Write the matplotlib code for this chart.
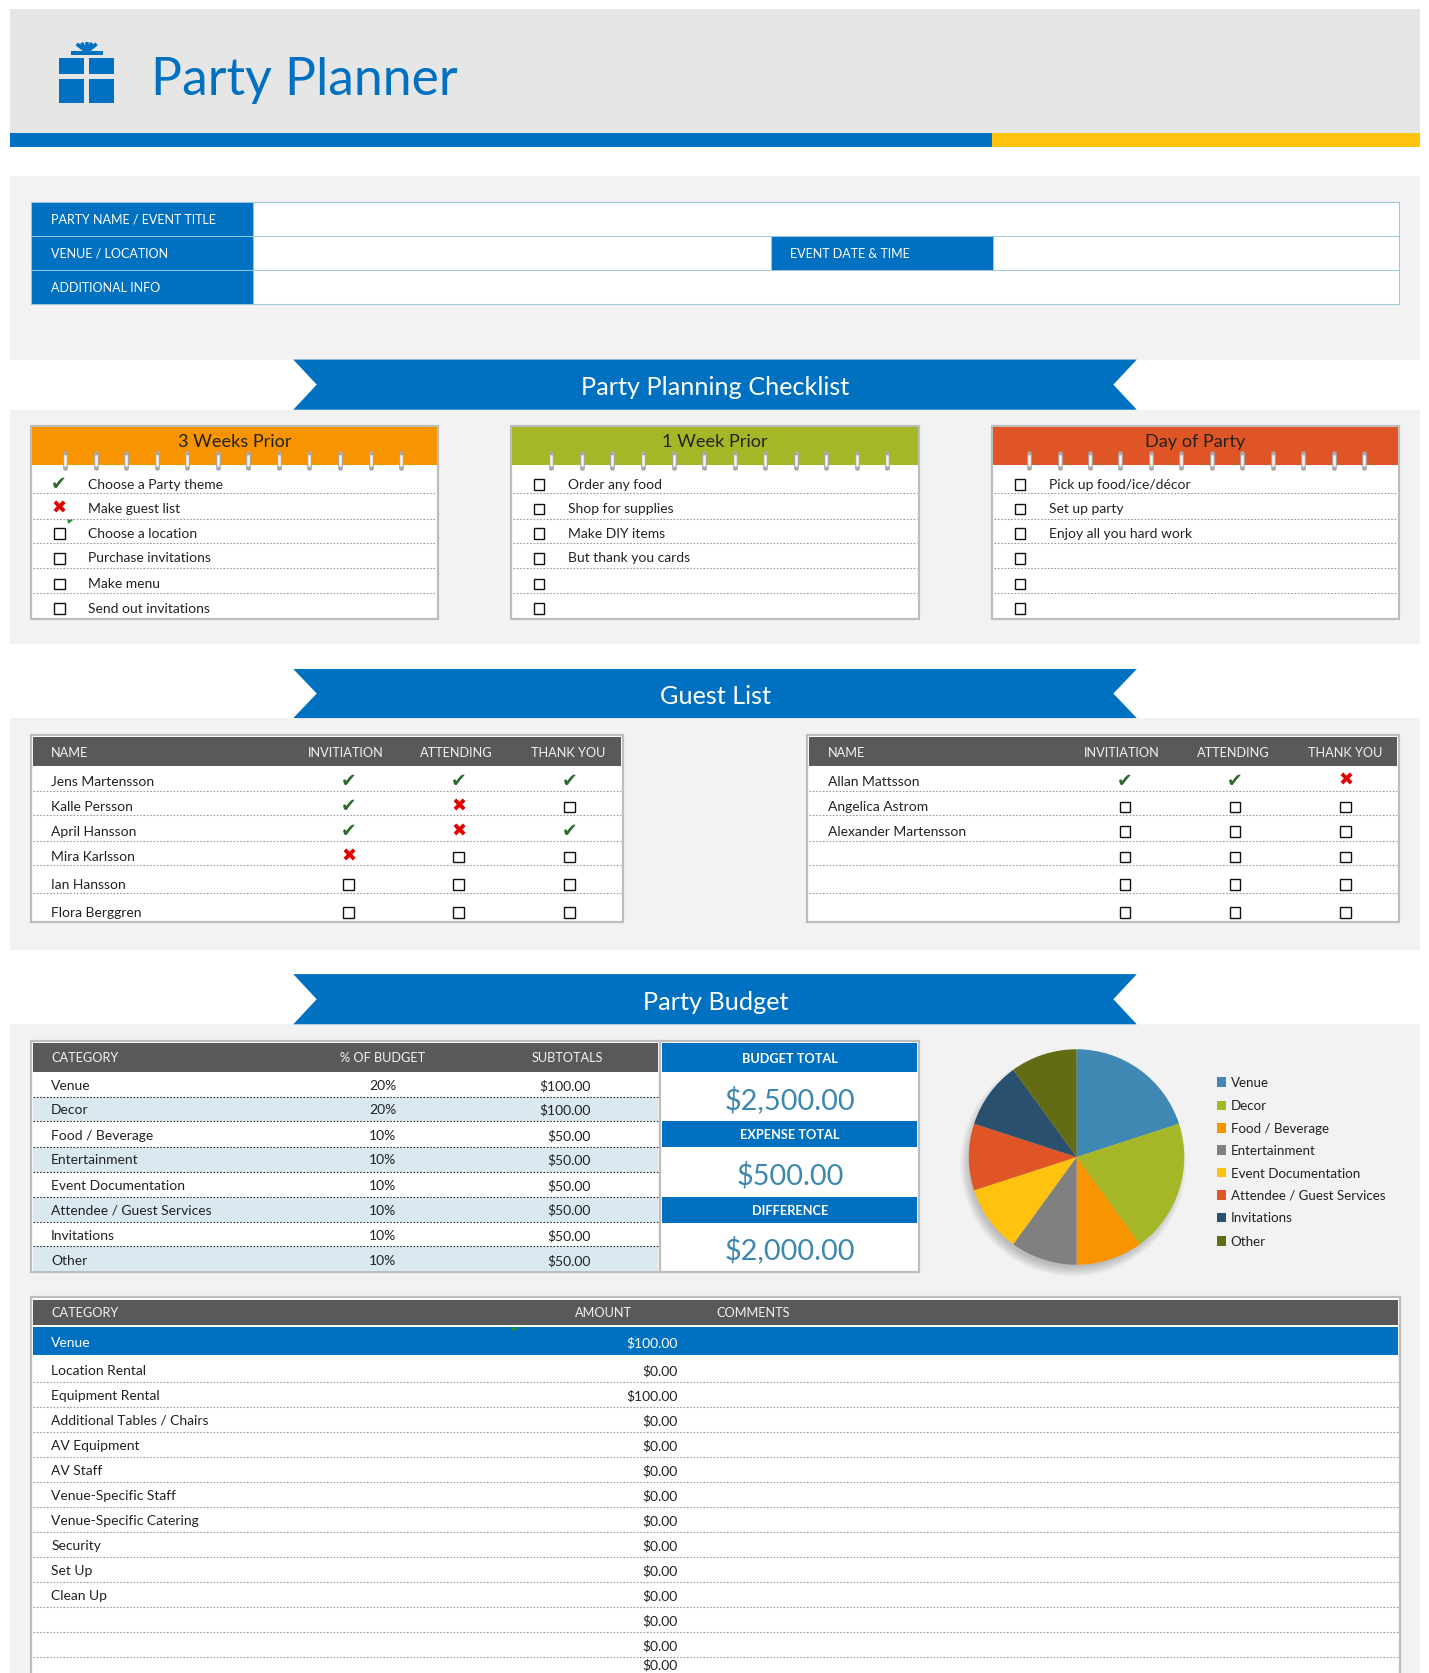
import matplotlib
matplotlib.use("Agg")
import matplotlib.pyplot as plt
from matplotlib.patches import Rectangle, Polygon, Circle

plt.rcParams['font.family'] = ['Lato', 'DejaVu Sans']

# ---- data ----
title = "Party Planner"
form_labels = ["PARTY NAME / EVENT TITLE", "VENUE / LOCATION", "ADDITIONAL INFO"]
form_extra = "EVENT DATE & TIME"
banners = ["Party Planning Checklist", "Guest List", "Party Budget"]

check_titles = ["3 Weeks Prior", "1 Week Prior", "Day of Party"]
check_tasks_1 = ["Choose a Party theme", "Make guest list", "Choose a location",
                 "Purchase invitations", "Make menu", "Send out invitations"]
check_state_1 = ["y", "n", "o", "o", "o", "o"]
check_tasks_2 = ["Order any food", "Shop for supplies", "Make DIY items",
                 "But thank you cards", "", ""]
check_state_2 = ["o"] * 6
check_tasks_3 = ["Pick up food/ice/décor", "Set up party", "Enjoy all you hard work", "", "", ""]
check_state_3 = ["o"] * 6
check_colors = ["#F79400", "#A5B627", "#E05525"]

guest_headers = ["NAME", "INVITIATION", "ATTENDING", "THANK YOU"]
guests_1 = ["Jens Martensson", "Kalle Persson", "April Hansson", "Mira Karlsson", "Ian Hansson", "Flora Berggren"]
invite_1 = ["y", "y", "y", "n", "o", "o"]
attend_1 = ["y", "n", "n", "o", "o", "o"]
thanks_1 = ["y", "o", "y", "o", "o", "o"]
guests_2 = ["Allan Mattsson", "Angelica Astrom", "Alexander Martensson", "", "", ""]
invite_2 = ["y", "o", "o", "o", "o", "o"]
attend_2 = ["y", "o", "o", "o", "o", "o"]
thanks_2 = ["n", "o", "o", "o", "o", "o"]

budget_cats = ["Venue", "Decor", "Food / Beverage", "Entertainment", "Event Documentation",
               "Attendee / Guest Services", "Invitations", "Other"]
budget_pct = [20, 20, 10, 10, 10, 10, 10, 10]
budget_sub = [100.0, 100.0, 50.0, 50.0, 50.0, 50.0, 50.0, 50.0]
pie_colors = ["#3F88B4", "#A5B627", "#F79400", "#808080", "#FFC20E", "#E05525", "#29506E", "#636B14"]
total_labels = ["BUDGET TOTAL", "EXPENSE TOTAL", "DIFFERENCE"]
total_values = ["$2,500.00", "$500.00", "$2,000.00"]

detail_group = "Venue"
detail_group_amount = 100.0
detail_items = ["Location Rental", "Equipment Rental", "Additional Tables / Chairs", "AV Equipment", "AV Staff",
                "Venue-Specific Staff", "Venue-Specific Catering", "Security", "Set Up", "Clean Up", "", "", ""]
detail_amounts = [0, 100, 0, 0, 0, 0, 0, 0, 0, 0, 0, 0, 0]

# ---- layout ----
W, H = 1340, 1568
BLUE, YEL, PANEL, DARK = "#0070C0", "#FFC20E", "#F2F2F2", "#595959"
GREY = "#BDBDBD"
TXT = "#222222"
fig = plt.figure(figsize=(14.29, 16.73), dpi=100, facecolor="white")
ax = fig.add_axes([0, 0, 1, 1])
ax.set_xlim(0, W); ax.set_ylim(H, 0); ax.axis("off")

FS = 10.0
HS = 9.2

def box(x0, y0, x1, y1, fc, ec="none", lw=0, z=1):
    ax.add_patch(Rectangle((x0, y0), x1 - x0, y1 - y0, facecolor=fc, edgecolor=ec, linewidth=lw, zorder=z))

def txt(x, y, s, fs=FS, c=TXT, ha="left", **k):
    ax.text(x, y, s, fontsize=fs, color=c, ha=ha, va="center_baseline", zorder=6, **k)

def dotted(x0, x1, y, c="#9A9A9A"):
    ax.plot([x0, x1], [y, y], color=c, lw=0.8, ls=(0, (1.5, 1.5)), zorder=3)

def mark(x, y, state):
    if state == "y":
        ax.text(x, y, "\u2714", fontsize=13.5, color="#2E6B2E", ha="center", va="center",
                family="DejaVu Sans", zorder=6)
    elif state == "n":
        ax.text(x, y, "\u2716", fontsize=13, color="#E00000", ha="center", va="center",
                family="DejaVu Sans", zorder=6)
    else:
        box(x - 5, y - 4.8, x + 5, y + 5.2, "white", "#111111", 1.0, z=5)

def banner(y0, y1, s):
    ym = (y0 + y1) / 2
    ax.add_patch(Polygon([(275, y0), (1066, y0), (1044, ym), (1066, y1), (275, y1), (297, ym)],
                         closed=True, facecolor=BLUE, edgecolor="none", zorder=4))
    txt(671, ym + 1, s, fs=18.2, c="white", ha="center")

# header
box(9, 8, 1332, 125, "#E6E6E6")
box(9, 125, 930, 138, BLUE)
box(930, 125, 1332, 138, YEL)
box(55.3, 54.7, 79, 69.4, BLUE, z=2); box(83.5, 54.7, 107, 69.4, BLUE, z=2)
box(55.3, 74.3, 79, 96.6, BLUE, z=2); box(83.5, 74.3, 107, 96.6, BLUE, z=2)
box(66.3, 47.5, 96.7, 51.8, BLUE, z=3)
for bx, by in zip([71.9, 76.5, 81.3, 86.2, 90.6], [41.2, 40.2, 39.5, 40.2, 41.2]):
    ax.plot([81.3, bx], [48.5, by], color=BLUE, lw=2.6, solid_capstyle="butt", zorder=3)
txt(142, 71, title, fs=37.3, c=BLUE)

# panels
box(9, 165, 1332, 337, PANEL)
box(9, 384, 1332, 604, PANEL)
box(9, 673, 1332, 890, PANEL)
box(9, 960, 1332, H, PANEL)
for (a, b), s in zip([(337, 384), (627, 673), (913, 960)], banners):
    banner(a, b, s)

# form
form_y = [189, 221, 253, 285]
box(29, 189, 1312, 285, "white", "#9CC9DC", 0.8)
for i, s in enumerate(form_labels):
    box(29, form_y[i], 237, form_y[i + 1], BLUE, "#9CC9DC", 0.7, z=2)
    txt(48, (form_y[i] + form_y[i + 1]) / 2, s, fs=9.0, c="white")
    if i < 2:
        ax.plot([237, 1312], [form_y[i + 1]] * 2, color="#9CC9DC", lw=0.7, zorder=2)
box(723, 221, 931, 253, BLUE, "#9CC9DC", 0.7, z=2)
txt(741, 237, form_extra, fs=9.0, c="white")

# checklists
check_x = [(29, 411), (479, 862), (930, 1312)]
check_rows = [454, 477, 500, 523, 547, 570]
check_lines = [462, 486, 509, 532, 556]
check_tasks = [check_tasks_1, check_tasks_2, check_tasks_3]
check_states = [check_state_1, check_state_2, check_state_3]
rings = [(61, 28.65), (517, 28.65), (965, 28.55)]
for c in range(3):
    x0, x1 = check_x[c]
    box(x0, 399, x1, 580, "white", GREY, 1.6, z=2)
    box(x0 + 1, 400, x1 - 1, 436, check_colors[c], z=3)
    txt((x0 + x1) / 2, 413, check_titles[c], fs=13.1, c="#222222", ha="center")
    for r in range(12):
        rx = rings[c][0] + r * rings[c][1]
        ax.plot([rx, rx], [425, 439], color="#A8A8A8", lw=3.4, solid_capstyle="round", zorder=4)
        ax.plot([rx, rx], [427.5, 435.5], color="#F4F4F4", lw=1.8, zorder=5)
    for ly in check_lines:
        dotted(x0 + 2, x1 - 2, ly)
    for r, ry in enumerate(check_rows):
        mark(x0 + 26.5, ry, check_states[c][r])
        txt(x0 + 53.5, ry - 0.5, check_tasks[c][r])
ax.add_patch(Polygon([(63, 487), (69, 487), (64, 491)], closed=True, facecolor="#2E8B2E", zorder=6))

# guests
guest_rows = [732, 756, 779, 803, 829, 855]
guest_lines = [741, 764, 788, 811, 837]
guest_tables = [(29, guests_1, invite_1, attend_1, thanks_1), (757, guests_2, invite_2, attend_2, thanks_2)]
for x0, names, a1, a2, a3 in guest_tables:
    x1 = x0 + 555
    box(x0, 689, x1, 864, "white", GREY, 1.6, z=2)
    box(x0 + 2, 691, x1 - 2, 718, DARK, z=3)
    txt(x0 + 19, 704.5, guest_headers[0], fs=HS, c="#F2F2F2")
    for off, s in zip([295, 399, 504], guest_headers[1:]):
        txt(x0 + off, 704.5, s, fs=HS, c="#F2F2F2", ha="center")
    for ly in guest_lines:
        dotted(x0 + 2, x1 - 2, ly)
    for r, ry in enumerate(guest_rows):
        txt(x0 + 19, ry - 0.3, names[r])
        for off, st in zip([298, 401, 505], [a1[r], a2[r], a3[r]]):
            mark(x0 + off, ry, st)

# budget table
box(29, 976, 619, 1192, "white", GREY, 1.6, z=2)
box(31, 978, 617, 1005, DARK, z=3)
txt(48, 991, "CATEGORY", fs=HS, c="#F2F2F2")
txt(359, 991, "% OF BUDGET", fs=HS, c="#F2F2F2", ha="center")
txt(532, 991, "SUBTOTALS", fs=HS, c="#F2F2F2", ha="center")
bud_rows = [1017, 1040, 1064, 1087, 1111, 1134, 1158, 1181]
bud_edges = [1005, 1028, 1051, 1075, 1098, 1122, 1145, 1168, 1191]
for i, ry in enumerate(bud_rows):
    if i % 2:
        box(31, bud_edges[i], 617, bud_edges[i + 1], "#DAE9F0", z=2.5)
    if i < 7:
        dotted(31, 617, bud_edges[i + 1], c="#333333")
    txt(48, ry - 0.3, budget_cats[i])
    txt(359, ry - 0.3, f"{budget_pct[i]}%", ha="center")
    txt(554, ry - 0.3, f"${budget_sub[i]:.2f}", ha="right")

# totals
box(619, 976, 862, 1192, "white", GREY, 1.6, z=2)
tot_head = [(978, 1005), (1051, 1075), (1122, 1146)]
tot_val_y = [1029, 1100, 1170]
for (a, b), lab, val, vy in zip(tot_head, total_labels, total_values, tot_val_y):
    box(621, a, 860, b, BLUE, z=3)
    txt(741, (a + b) / 2, lab, fs=HS, c="white", ha="center", fontweight="bold")
    txt(741, vy - 0.5, val, fs=20.8, c="#3E87AF", ha="center")

# pie
cx, cy, rad = 1009.5, 1084.4, 101
for k in range(10):
    ax.add_patch(Circle((cx - 3, cy + 6), rad + 5 - k, facecolor="black", alpha=0.022, edgecolor="none", zorder=2))
pa = fig.add_axes([(cx - rad) / W, 1 - (cy + rad) / H, 2 * rad / W, 2 * rad / H])
pa.pie(budget_pct, colors=pie_colors, startangle=90, counterclock=False, radius=1.0,
       wedgeprops=dict(linewidth=0))
pa.set_xlim(-1, 1); pa.set_ylim(-1, 1); pa.set_aspect("auto")

leg_y = [1014, 1036, 1057, 1078, 1099, 1120, 1141, 1163]
for c, s, ly in zip(pie_colors, budget_cats, leg_y):
    box(1141, ly - 4.5, 1150, ly + 4.5, c, z=4)
    txt(1154, ly, s, fs=9.6)

# detail table
box(29, 1216, 1313, H + 5, "white", GREY, 1.6, z=2)
box(31, 1218, 1311, 1242, DARK, z=3)
txt(48, 1230, "CATEGORY", fs=HS, c="#F2F2F2")
txt(593, 1230, "AMOUNT", fs=HS, c="#F2F2F2", ha="right")
txt(672, 1230, "COMMENTS", fs=HS, c="#F2F2F2")
box(31, 1244, 1311, 1270, BLUE, z=3)
txt(48, 1258, detail_group, c="white")
txt(635, 1258, f"${detail_group_amount:.2f}", c="white", ha="right")
ax.add_patch(Polygon([(478, 1244), (486, 1244), (482, 1248)], closed=True, facecolor="#2E8B2E", zorder=6))
for i, (s, v) in enumerate(zip(detail_items, detail_amounts)):
    ry = 1284 + i * 23.42
    txt(48, ry, s)
    txt(635, min(ry, 1560), f"${v:.2f}", ha="right")
    dotted(31, 1311, ry + 11.7)

fig.savefig("out.png", dpi=100, facecolor="white")
